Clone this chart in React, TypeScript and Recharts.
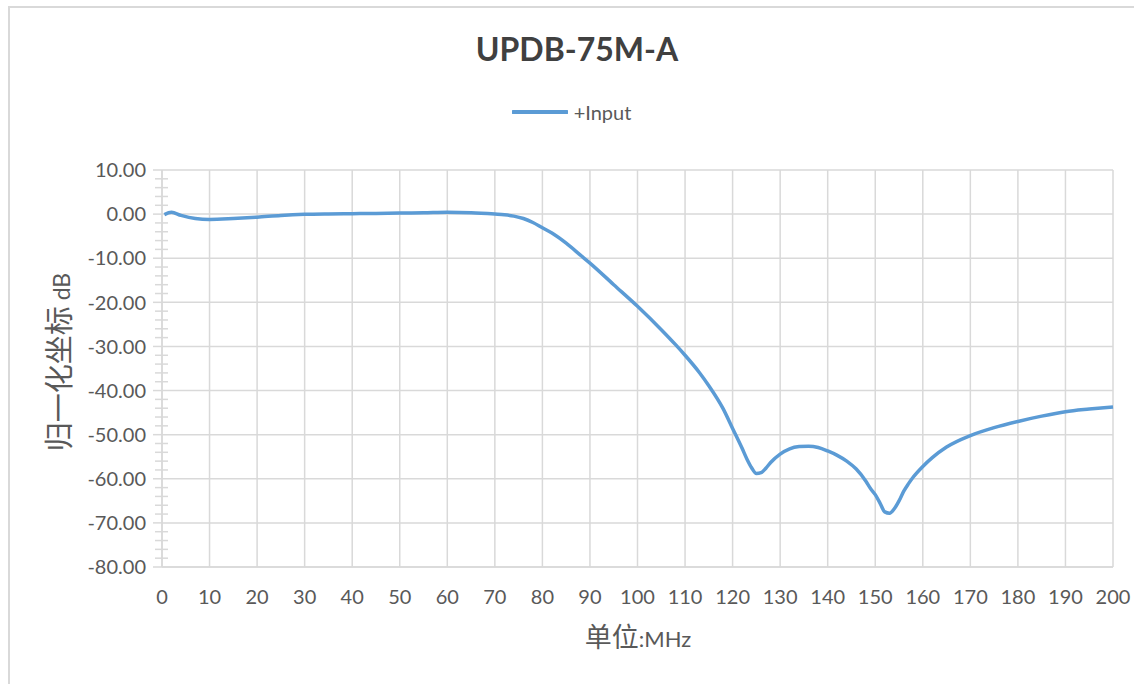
import React from 'react';
import { LineChart, Line, XAxis, YAxis, CartesianGrid, Legend } from 'recharts';

const freqMHz = [
  0.5, 2, 4, 7, 10, 15, 20, 25, 30, 35, 40, 45, 50, 55, 60, 65, 70, 72, 74, 76, 78, 80,
  82, 85, 88, 90, 95, 100, 105, 108, 110, 113, 115, 118, 120, 122, 123, 124, 125, 126, 127,
  128, 130, 132, 134, 136, 138, 140, 142, 144, 146, 148, 149, 150, 151, 152, 153, 154,
  155, 156, 157, 158, 160, 162, 165, 170, 175, 180, 185, 190, 195, 200,
];

const inputDb = [
  -0.1, 0.4, -0.3, -1.0, -1.2, -1.0, -0.7, -0.3, -0.05, 0.05, 0.1, 0.15, 0.25, 0.3, 0.4,
  0.3, 0.0, -0.15, -0.45, -1.0, -1.9, -3.1, -4.3, -6.6, -9.3, -11.1, -16.0, -20.9, -26.2,
  -29.6, -32.0, -35.9, -38.9, -44.1, -48.6, -53.1, -55.5, -57.5, -58.8, -58.6, -57.6, -56.3,
  -54.4, -53.2, -52.7, -52.6, -52.9, -53.7, -54.7, -56.0, -57.8, -60.5, -62.2, -63.6,
  -65.5, -67.5, -67.8, -66.8, -65.0, -62.8, -61.1, -59.6, -57.2, -55.2, -52.8, -50.2,
  -48.4, -47.0, -45.8, -44.8, -44.2, -43.7,
];

const xTicks = [0, 10, 20, 30, 40, 50, 60, 70, 80, 90, 100, 110, 120, 130, 140, 150, 160, 170, 180, 190, 200];
const yMajor = [10, 0, -10, -20, -30, -40, -50, -60, -70, -80];
const yAll = Array.from({ length: 46 }, (_, i) => 10 - i * 2);

const data = freqMHz.map((f, i) => ({ f, db: inputDb[i] }));

const GRID = '#d9d9d9';
const TEXT = '#595959';
const FONT = "Lato, 'Noto Sans CJK SC', sans-serif";

const YTick = ({ x, y, payload }: any) => {
  const v = payload.value;
  const major = v % 10 === 0;
  return (
    <g>
      {major ? (
        <>
          <line x1={x - 9} x2={x} y1={y} y2={y} stroke={GRID} strokeWidth={1.5} />
          <text x={x - 16} y={y} dy="0.36em" textAnchor="end" fill={TEXT} fontSize={20} fontFamily={FONT}>
            {v.toFixed(2)}
          </text>
        </>
      ) : (
        <line x1={x - 7} x2={x + 6} y1={y} y2={y} stroke={GRID} strokeWidth={1.5} />
      )}
    </g>
  );
};

const LegendContent = () => (
  <div style={{ display: 'flex', justifyContent: 'center', alignItems: 'center', paddingLeft: 9, fontFamily: FONT }}>
    <svg width={56} height={10} style={{ marginRight: 6 }}>
      <line x1={1} x2={55} y1={5} y2={5} stroke="#5b9bd5" strokeWidth={4} strokeLinecap="round" />
    </svg>
    <span style={{ fontSize: 20, color: TEXT }}>+Input</span>
  </div>
);

export default function App() {
  return (
    <div style={{ position: 'absolute', left: 0, top: 0, width: 1134, height: 684, overflow: 'hidden', background: '#fff' }}>
      <div style={{ position: 'absolute', left: 8, top: 6, width: 1200, height: 800, borderTop: `2px solid ${GRID}`, borderLeft: `2px solid ${GRID}`, boxSizing: 'border-box' }} />
      <div style={{ position: 'absolute', left: 0, top: 29, width: 1154, textAlign: 'center', fontFamily: FONT, fontWeight: 700, fontSize: 32, color: '#404040', lineHeight: '40px' }}>
        UPDB-75M-A
      </div>
      <div style={{ position: 'absolute', left: 0, top: 0 }}>
        <LineChart width={1134} height={684} data={data} margin={{ top: 170, right: 21, bottom: 0, left: 0 }}>
          <CartesianGrid stroke={GRID} strokeWidth={1.5} horizontalValues={yMajor} verticalValues={xTicks} />
          <XAxis
            dataKey="f"
            type="number"
            domain={[0, 200]}
            ticks={xTicks}
            interval={0}
            height={117}
            tickLine={false}
            tickSize={0}
            tickMargin={23}
            axisLine={{ stroke: GRID, strokeWidth: 1.5 }}
            tick={{ fill: TEXT, fontSize: 20, fontFamily: FONT }}
          />
          <YAxis
            type="number"
            domain={[-80, 10]}
            ticks={yAll}
            interval={0}
            width={162}
            tickLine={false}
            tickSize={0}
            tickMargin={0}
            axisLine={{ stroke: GRID, strokeWidth: 1.5 }}
            tick={<YTick />}
          />
          <Legend verticalAlign="middle" align="center" layout="horizontal" wrapperStyle={{ top: 100, left: 0, width: 1134 }} content={<LegendContent />} />
          <Line type="monotone" dataKey="db" name="+Input" stroke="#5b9bd5" strokeWidth={3.5} dot={false} isAnimationActive={false} />
        </LineChart>
      </div>
      <div style={{ position: 'absolute', left: 0, top: 621, width: 1276, textAlign: 'center', fontFamily: FONT, fontSize: 22, color: TEXT, lineHeight: '32px' }}>
        <span style={{ fontSize: 27 }}>单位</span>:MHz
      </div>
      <div style={{ position: 'absolute', left: 60, top: 362, width: 0, height: 0 }}>
        <div style={{ position: 'absolute', left: 0, top: 0, transform: 'translate(-50%, -50%) rotate(-90deg)', whiteSpace: 'nowrap', fontFamily: FONT, fontSize: 23, color: TEXT, lineHeight: '32px' }}>
          <span style={{ fontSize: 29 }}>归一化坐标</span> dB
        </div>
      </div>
    </div>
  );
}
